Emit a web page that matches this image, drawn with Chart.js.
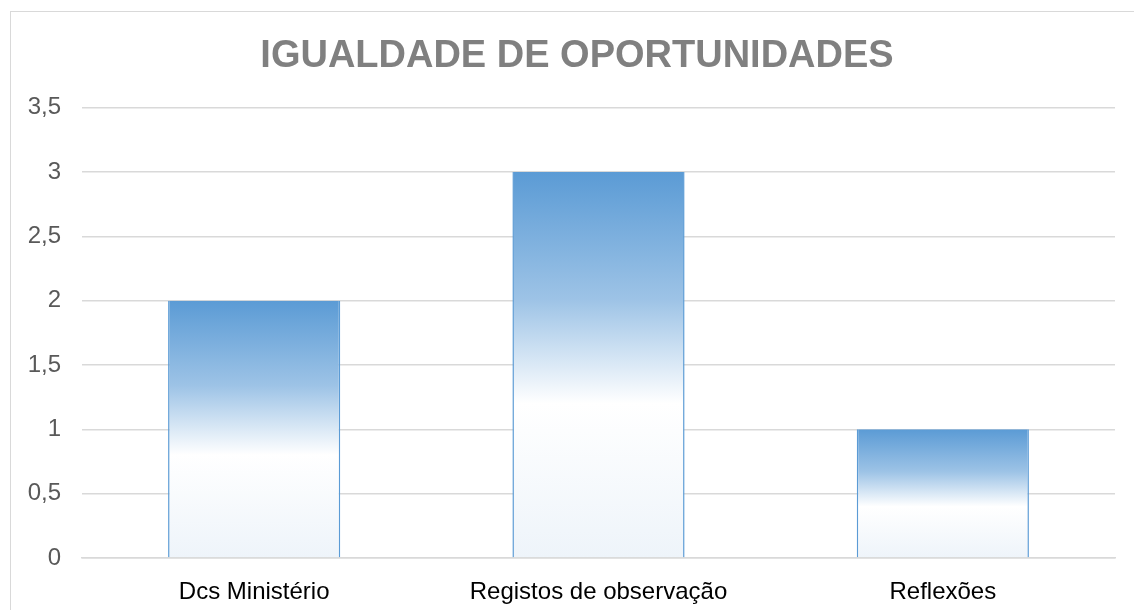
<!DOCTYPE html>
<html>
<head>
<meta charset="utf-8">
<script src="https://cdn.jsdelivr.net/npm/chart.js@4.4.1/dist/chart.umd.min.js"></script>
<style>
  html, body { margin: 0; padding: 0; background: #fff; overflow: hidden; }
  #frame {
    position: absolute; left: 10px; top: 11px;
    width: 1200px; height: 700px;
    border: 1px solid #d9d9d9;
  }
  #wrap { position: absolute; left: 0; top: 0; width: 1134px; height: 610px; }
</style>
</head>
<body>
<div id="frame"></div>
<div id="wrap"><canvas id="grafico"></canvas></div>
<script>
const categorias = ["Dcs Ministério", "Registos de observação", "Reflexões"];
const valores = [2, 3, 1];
const titulo = "IGUALDADE DE OPORTUNIDADES";

init();

function barGradient(context) {
  const chart = context.chart;
  const { ctx, chartArea, scales } = chart;
  if (!chartArea) return "#5b9bd5";
  const value = context.raw;
  const top = scales.y.getPixelForValue(value);
  const bottom = scales.y.getPixelForValue(0);
  const grad = ctx.createLinearGradient(0, top, 0, bottom);
  grad.addColorStop(0, "#5b9bd5");
  grad.addColorStop(0.33, "#9dc3e6");
  grad.addColorStop(0.6, "#ffffff");
  grad.addColorStop(1, "#eef4fa");
  return grad;
}

function init() {
  new Chart(document.getElementById("grafico"), {
    type: "bar",
    data: {
      labels: categorias,
      datasets: [
        {
          data: valores,
          backgroundColor: barGradient,
          borderColor: "#5b9bd5",
          borderWidth: { top: 0, left: 1.5, right: 1.5, bottom: 0 },
          borderSkipped: false,
          barPercentage: 0.5,
          categoryPercentage: 1,
        },
      ],
    },
    options: {
      responsive: true,
      maintainAspectRatio: false,
      animation: false,
      layout: { padding: { left: 20, right: 0, top: 34, bottom: 0 } },
      plugins: {
        legend: { display: false },
        tooltip: { enabled: false },
        title: {
          display: true,
          text: titulo,
          color: "#808080",
          font: { family: "Liberation Sans", size: 38, weight: "bold" },
          padding: { top: 0, bottom: 28 },
        },
      },
      scales: {
        x: {
          afterFit: (scale) => { scale.height = 52; },
          grid: { display: false },
          border: { color: "#d9d9d9", width: 1.5 },
          ticks: {
            color: "#000000",
            font: { family: "Liberation Sans", size: 24 },
            padding: 12,
          },
        },
        y: {
          min: 0,
          max: 3.5,
          afterFit: (scale) => { scale.width = 62; },
          grid: { color: "#d9d9d9", drawTicks: false, lineWidth: 1.5 },
          border: { display: false },
          ticks: {
            stepSize: 0.5,
            color: "#595959",
            padding: 21,
            font: { family: "Liberation Sans", size: 24 },
            callback: (v) => String(v).replace(".", ","),
          },
        },
        // empty right margin so the title centres like the original
        margem: {
          position: "right",
          afterFit: (scale) => { scale.width = 19; },
          grid: { display: false },
          border: { display: false },
          ticks: { display: false },
        },
      },
    },
  });
}
</script>
</body>
</html>
